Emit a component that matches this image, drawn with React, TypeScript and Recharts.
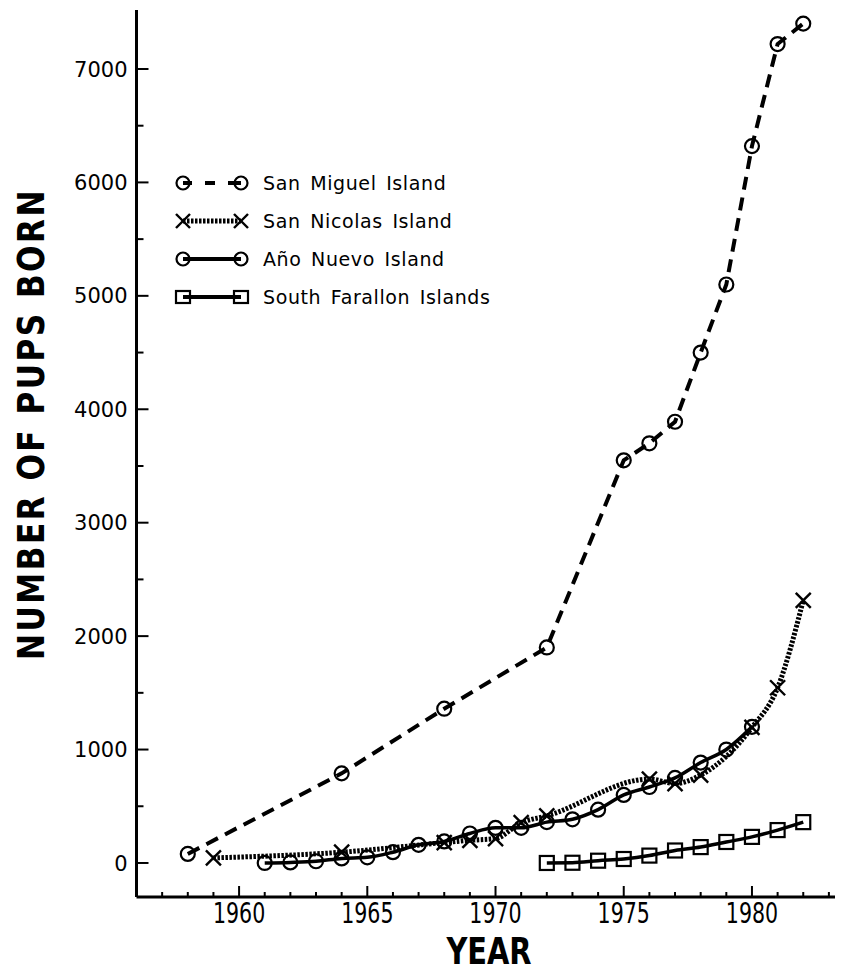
import React from 'react';
import { LineChart, Line, XAxis, YAxis, Legend, Customized } from 'recharts';

// ---- data ----
const sanMiguelYears = [1958, 1964, 1968, 1972, 1975, 1976, 1977, 1978, 1979, 1980, 1981, 1982];
const sanMiguelPups = [80, 790, 1360, 1900, 3550, 3700, 3890, 4500, 5100, 6320, 7220, 7400];

const sanNicolasYears = [1959, 1964, 1968, 1969, 1970, 1971, 1972, 1976, 1977, 1978, 1980, 1981, 1982];
const sanNicolasPups = [45, 95, 180, 200, 215, 355, 415, 740, 700, 775, 1195, 1545, 2315];

const anoNuevoYears = [1961, 1962, 1963, 1964, 1965, 1966, 1967, 1968, 1969, 1970, 1971, 1972, 1973, 1974, 1975, 1976, 1977, 1978, 1979, 1980];
const anoNuevoPups = [0, 5, 15, 40, 50, 95, 160, 190, 260, 310, 310, 360, 385, 470, 600, 670, 750, 885, 1000, 1200];

const farallonYears = [1972, 1973, 1974, 1975, 1976, 1977, 1978, 1979, 1980, 1981, 1982];
const farallonPups = [0, 2, 20, 35, 65, 110, 140, 185, 230, 290, 360];

const seriesNames = ['San Miguel Island', 'San Nicolas Island', 'Año Nuevo Island', 'South Farallon Islands'];

const xMajorTicks = [1960, 1965, 1970, 1975, 1980];
const xAllTicks = [1957, 1958, 1959, 1960, 1961, 1962, 1963, 1964, 1965, 1966, 1967, 1968, 1969, 1970, 1971, 1972, 1973, 1974, 1975, 1976, 1977, 1978, 1979, 1980, 1981, 1982, 1983];
const yAllTicks = [0, 500, 1000, 1500, 2000, 2500, 3000, 3500, 4000, 4500, 5000, 5500, 6000, 6500, 7000];

const xTitle = 'YEAR';
const yTitle = 'NUMBER OF PUPS BORN';

const toRows = (xs: number[], ys: number[]) => xs.map((year, i) => ({ year, pups: ys[i] }));
const sanMiguel = toRows(sanMiguelYears, sanMiguelPups);
const sanNicolas = toRows(sanNicolasYears, sanNicolasPups);
const anoNuevo = toRows(anoNuevoYears, anoNuevoPups);
const farallon = toRows(farallonYears, farallonPups);

// ---- markers ----
const CircleDot = (p: any) => {
  if (p.cx == null || p.cy == null) return <g key={p.index} />;
  return <circle key={p.index} cx={p.cx} cy={p.cy} r={7} fill="none" stroke="#000" strokeWidth={2.2} />;
};
const CrossDot = (p: any) => {
  if (p.cx == null || p.cy == null) return <g key={p.index} />;
  const s = 7.5;
  return (
    <g key={p.index}>
      <line x1={p.cx - s} y1={p.cy - s} x2={p.cx + s} y2={p.cy + s} stroke="#000" strokeWidth={2.4} />
      <line x1={p.cx - s} y1={p.cy + s} x2={p.cx + s} y2={p.cy - s} stroke="#000" strokeWidth={2.4} />
    </g>
  );
};
const SquareDot = (p: any) => {
  if (p.cx == null || p.cy == null) return <g key={p.index} />;
  return <rect key={p.index} x={p.cx - 7} y={p.cy - 7} width={14} height={14} fill="none" stroke="#000" strokeWidth={2.2} />;
};

// ---- ticks ----
const XTick = (p: any) => {
  const v = p.payload.value;
  const major = xMajorTicks.includes(v);
  return (
    <g>
      <line x1={p.x} x2={p.x} y1={p.y} y2={p.y - (major ? 11 : 5)} stroke="#000" strokeWidth={2} />
      {major && (
        <text
          transform={`translate(${p.x},${p.y + 25.5}) scale(0.71,1)`}
          x={0}
          y={0}
          textAnchor="middle"
          fontFamily="'DejaVu Sans', sans-serif"
          fontSize={29}
          fill="#000"
        >
          {v}
        </text>
      )}
    </g>
  );
};
const YTick = (p: any) => {
  const v = p.payload.value;
  const major = v % 1000 === 0;
  return (
    <g>
      <line x1={p.x} x2={p.x + (major ? 12 : 7)} y1={p.y} y2={p.y} stroke="#000" strokeWidth={2} />
      {major && (
        <text x={p.x - 9} y={p.y} dy="0.36em" textAnchor="end" fontFamily="'DejaVu Sans', sans-serif" fontSize={21} fill="#000">
          {v}
        </text>
      )}
    </g>
  );
};

// ---- legend ----
const legendStyles = [
  { marker: 'circle', dash: '9 13 10 13 13', width: 4 },
  { marker: 'cross', dash: '2.5 1.5', width: 5 },
  { marker: 'circle', dash: undefined, width: 4 },
  { marker: 'square', dash: undefined, width: 4 },
];
const LegendMarker = ({ kind, cx, cy }: any) => {
  if (kind === 'circle') return <circle cx={cx} cy={cy} r={6.5} fill="none" stroke="#000" strokeWidth={2.2} />;
  if (kind === 'square') return <rect x={cx - 7} y={cy - 6} width={14} height={12} fill="none" stroke="#000" strokeWidth={2.2} />;
  return (
    <g>
      <line x1={cx - 7} y1={cy - 7} x2={cx + 7} y2={cy + 7} stroke="#000" strokeWidth={2.4} />
      <line x1={cx - 7} y1={cy + 7} x2={cx + 7} y2={cy - 7} stroke="#000" strokeWidth={2.4} />
    </g>
  );
};
const renderLegend = () => (
  <div>
    {seriesNames.map((name, i) => {
      const st = legendStyles[i];
      return (
        <div key={name} style={{ display: 'flex', alignItems: 'center', height: 38 }}>
          <svg width={76} height={30} style={{ display: 'block' }}>
            <line x1={9} x2={67} y1={15} y2={15} stroke="#000" strokeWidth={st.width} strokeDasharray={st.dash} />
            <LegendMarker kind={st.marker} cx={9} cy={15} />
            <LegendMarker kind={st.marker} cx={67} cy={15} />
          </svg>
          <span style={{ marginLeft: 13, fontFamily: "'DejaVu Sans', sans-serif", fontSize: 19, letterSpacing: 0.6, wordSpacing: 3, color: '#000', whiteSpace: 'nowrap' }}>
            {name}
          </span>
        </div>
      );
    })}
  </div>
);

const Titles = () => (
  <g>
    <text
      transform="translate(36,416) rotate(-90) scale(0.82,1)"
      x={0}
      y={0}
      textAnchor="middle"
      fontFamily="'DejaVu Sans', sans-serif"
      fontWeight="bold"
      fontSize={38}
      letterSpacing={3}
      fill="#000"
    >
      {yTitle}
    </text>
    <text
      transform="translate(481,956) scale(0.78,1)"
      x={0}
      y={0}
      textAnchor="middle"
      fontFamily="'DejaVu Sans', sans-serif"
      fontWeight="bold"
      fontSize={37}
      fill="#000"
    >
      {xTitle}
    </text>
  </g>
);

export default function App() {
  return (
    <div style={{ width: 835, height: 965 }}>
      <LineChart width={835} height={965} margin={{ top: 2, right: 0, bottom: 0, left: 0 }}>
        <XAxis
          type="number"
          dataKey="year"
          domain={[1956, 1983.55]}
          allowDataOverflow
          ticks={xAllTicks}
          interval={0}
          tick={XTick}
          tickSize={0}
          tickMargin={0}
          tickLine={false}
          height={76}
          axisLine={{ stroke: '#000', strokeWidth: 3 }}
        />
        <XAxis
          xAxisId="top"
          orientation="top"
          type="number"
          domain={[1956, 1983.55]}
          allowDataOverflow
          tick={false}
          tickLine={false}
          height={0}
          axisLine={{ stroke: '#000', strokeWidth: 3 }}
        />
        <YAxis
          type="number"
          domain={[-300, 7520]}
          allowDataOverflow
          ticks={yAllTicks}
          interval={0}
          tick={YTick}
          tickSize={0}
          tickMargin={0}
          tickLine={false}
          width={128.5}
          axisLine={{ stroke: '#000', strokeWidth: 3 }}
        />
        <Legend
          layout="vertical"
          align="center"
          verticalAlign="middle"
          content={renderLegend}
          wrapperStyle={{ left: 166, top: 156, width: 360 }}
        />
        <Line data={sanMiguel} dataKey="pups" name={seriesNames[0]} type="linear" stroke="#000" strokeWidth={4} strokeDasharray="13 8" dot={CircleDot} isAnimationActive={false} />
        <Line data={sanNicolas} dataKey="pups" name={seriesNames[1]} type="monotone" stroke="#000" strokeWidth={5} strokeDasharray="2.5 1.5" dot={CrossDot} isAnimationActive={false} />
        <Line data={anoNuevo} dataKey="pups" name={seriesNames[2]} type="monotone" stroke="#000" strokeWidth={3.5} dot={CircleDot} isAnimationActive={false} />
        <Line data={farallon} dataKey="pups" name={seriesNames[3]} type="monotone" stroke="#000" strokeWidth={3.5} dot={SquareDot} isAnimationActive={false} />
        <Customized component={Titles} />
      </LineChart>
    </div>
  );
}
